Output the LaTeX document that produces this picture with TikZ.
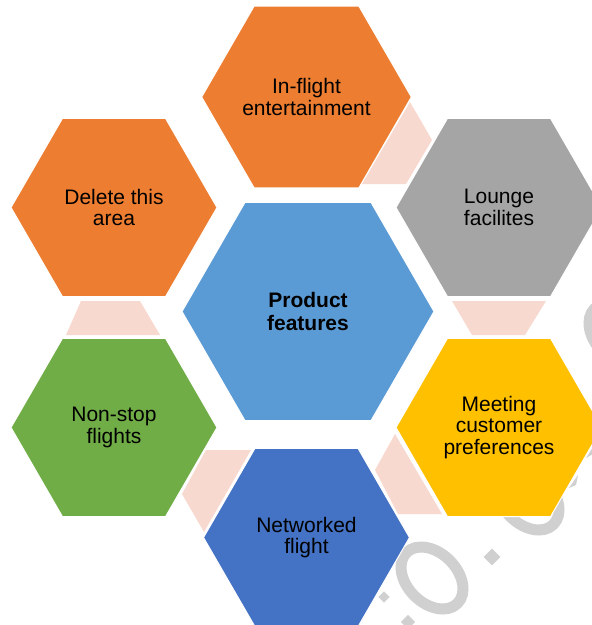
\documentclass[tikz,border=0pt]{standalone}
\usepackage{fontspec}
\setmainfont{Liberation Sans}
\usetikzlibrary{shapes.geometric}
\definecolor{hexorange}{HTML}{ED7D31}
\definecolor{hexgray}{HTML}{A5A5A5}
\definecolor{hexyellow}{HTML}{FFC000}
\definecolor{hexdblue}{HTML}{4472C4}
\definecolor{hexgreen}{HTML}{70AD47}
\definecolor{hexcenter}{HTML}{5B9BD5}
\definecolor{linkpink}{HTML}{F8D9CF}
\definecolor{wmgray}{HTML}{D0D0D0}
\begin{document}
\begin{tikzpicture}[x=1pt,y=-1pt,
  hexa/.style={regular polygon, regular polygon sides=6, minimum size=206pt,
    inner sep=0pt, outer sep=0pt, draw=white, line width=1pt, align=center,
    text=black, font=\fontsize{21}{21.5}\selectfont},
  bighexa/.style={hexa, minimum size=252pt},
  link/.style={fill=linkpink},
  wm/.style={draw=wmgray, line width=11pt}]
\clip (0,0) rectangle (592,625);
\fill[white] (0,0) rectangle (592,625);
% watermark
\draw[wm, rotate around={-45:(432,578)}] (432,578) ellipse (36 and 25);
\fill[wmgray, rotate around={45:(492,557)}] (486,551) rectangle (498,563);
\draw[wm, rotate around={-45:(528,499)}] (528,499) ellipse (36 and 25);
\draw[wm, rotate around={-45:(620,334)}] (620,334) ellipse (36 and 25);
\fill[wmgray] (569,488) -- (578,475) -- (576,485) -- cycle;
\fill[wmgray] (586,458) -- (595,444) -- (593,454) -- cycle;
\fill[wmgray, rotate around={45:(384,597)}] (380,593) rectangle (388,601);
\fill[wmgray, rotate around={45:(408,622)}] (403,617) rectangle (413,627);
% connectors
\path[link] (410,102) -- (432,140) -- (406,184) -- (362,184) -- cycle;
\path[link] (452,301) -- (546,301) -- (525,335) -- (472,335) -- cycle;
\path[link] (395,434) -- (442,514) -- (398,514) -- (375,470) -- cycle;
\path[link] (206,450) -- (251,450) -- (204,532) -- (182,494) -- cycle;
\path[link] (81,301) -- (140,301) -- (160,335) -- (66,335) -- cycle;
% hexagons
\node[hexa, fill=hexorange] (top) at (306.5,97) {In-flight\\entertainment};
\node[hexa, fill=hexorange] (del) at (114,207.5) {Delete this\\area};
\node[hexa, fill=hexgray] (lounge) at (499,207.5) {Lounge\\facilites};
\node[bighexa, fill=hexcenter, font=\fontsize{21}{22.5}\selectfont\bfseries] (center) at (308,311.5) {Product\\features};
\node[hexa, fill=hexgreen] (nonstop) at (114,427.5) {Non-stop\\flights};
\node[hexa, fill=hexyellow] (meet) at (499,427.5) {Meeting\\customer\\preferences};
\node[hexa, fill=hexdblue] (net) at (306.5,537.5) {Networked\\flight};
\end{tikzpicture}
\end{document}
